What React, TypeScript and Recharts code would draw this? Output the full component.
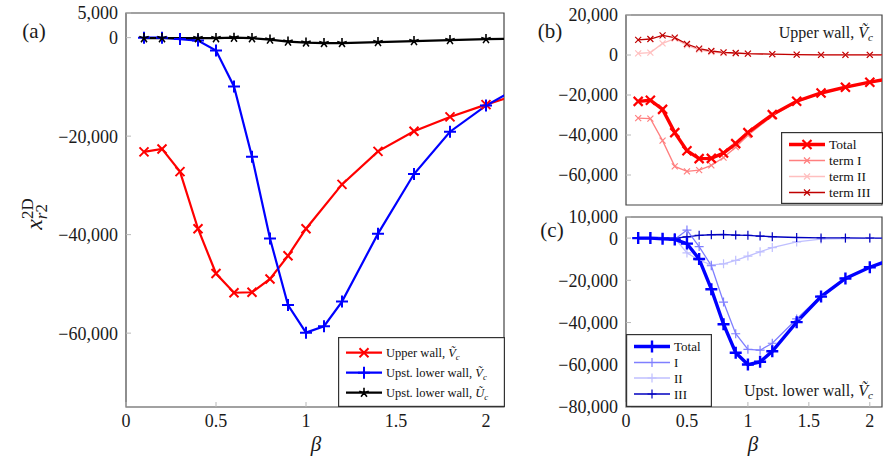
import React from 'react';
import { LineChart, Line, XAxis, YAxis, ReferenceArea, Legend } from 'recharts';

const SERIF = '"Liberation Serif", "Times New Roman", serif';

// β values at which each family of curves was sampled
const betaUpperWall = [0.1, 0.2, 0.3, 0.4, 0.5, 0.6, 0.7, 0.8, 0.9, 1.0, 1.2, 1.4, 1.6, 1.8, 2.0, 2.2];
const betaLowerWallV = [0.1, 0.2, 0.3, 0.4, 0.5, 0.6, 0.7, 0.8, 0.9, 1.0, 1.1, 1.2, 1.4, 1.6, 1.8, 2.0, 2.2];
const betaLowerWallU = [0.1, 0.2, 0.4, 0.5, 0.6, 0.7, 0.8, 0.9, 1.0, 1.1, 1.2, 1.4, 1.6, 1.8, 2.0, 2.2];

// Upper wall, V_c: total and its three contributions
const upperTotal = [-23200, -22600, -27200, -38800, -47900, -51800, -51700, -49000, -44300, -38800, -29800, -23100, -19000, -16100, -13600, -11300];
const upperTermI = [-31600, -31800, -42800, -55700, -58200, -57600, -55200, -51300, -46100, -40100, -30500, -23450, -19200, -16250, -13750, -11450];
const upperTermII = [800, 1200, 5800, 8200, 4800, 2600, 1500, 1000, 800, 600, 300, 150, 100, 50, 50, 50];
const upperTermIII = [7600, 8000, 9800, 8700, 5500, 3200, 2000, 1300, 1000, 700, 400, 200, 100, 100, 100, 100];

// Upstream lower wall, V_c: total and its three contributions
const lowerTotal = [0, 0, -300, -600, -2600, -9900, -24200, -40800, -54300, -59900, -58600, -53600, -39800, -27700, -19100, -13800, -9700];
const lowerTermI = [0, 0, -300, -600, 3800, -4000, -13100, -30300, -45300, -52700, -53100, -49800, -38300, -27300, -19000, -13700, -9600];
const lowerTermII = [0, 0, 0, 0, -7000, -10500, -12700, -12200, -10500, -8500, -6500, -4500, -1800, -500, -200, -100, -100];
const lowerTermIII = [0, 0, 0, 0, 600, 1300, 1600, 1700, 1450, 1300, 950, 650, 300, 100, 100, 0, 0];

// Upstream lower wall, U_c
const lowerUc = [-100, -100, -100, -100, 0, -100, -400, -800, -1000, -1100, -1100, -900, -700, -500, -300, -200];

// Axis ticks
const betaTicks = [0, 0.5, 1, 1.5, 2];
const ticksA = [5000, 0, -20000, -40000, -60000];
const ticksB = [20000, 0, -20000, -40000, -60000];
const ticksC = [10000, 0, -20000, -40000, -60000, -80000];

type MarkKind = 'cross' | 'plus' | 'star';

interface Series {
  id: string;
  beta: number[];
  values: number[];
  color: string;
  width: number;
  mark: MarkKind;
  markR: number;
  markW: number;
  label: React.ReactNode;
}

const toRows = (beta: number[], values: number[]) => beta.map((b, i) => ({ beta: b, value: values[i] }));

function fmtValue(v: number): string {
  if (v === 0) return '0';
  const s = String(Math.abs(v)).replace(/\B(?=(\d{3})+(?!\d))/g, ',');
  return (v < 0 ? '\u2212' : '') + s;
}

function markPath(kind: MarkKind, cx: number, cy: number, r: number): string {
  if (kind === 'cross') {
    return `M${cx - r},${cy - r}L${cx + r},${cy + r}M${cx - r},${cy + r}L${cx + r},${cy - r}`;
  }
  if (kind === 'plus') {
    return `M${cx - r},${cy}L${cx + r},${cy}M${cx},${cy - r}L${cx},${cy + r}`;
  }
  let p = '';
  for (let k = 0; k < 5; k++) {
    const a = ((90 + 72 * k) * Math.PI) / 180;
    p += `M${cx},${cy}L${cx + r * Math.cos(a)},${cy - r * Math.sin(a)}`;
  }
  return p;
}

// "wall, Ṽ_c" style suffix
const tildeSub = (base: string) => (
  <>
    <tspan fontStyle="italic">{base}</tspan>
    <tspan fontStyle="italic" fontSize="0.7em" dy="0.3em">c</tspan>
  </>
);

const RED = '#ff0000';
const BLUE = '#0000ff';

const seriesA: Series[] = [
  { id: 'a-up', beta: betaUpperWall, values: upperTotal, color: RED, width: 2.2, mark: 'cross', markR: 4.5, markW: 2, label: <>Upper wall, {tildeSub('Ṽ')}</> },
  { id: 'a-lowV', beta: betaLowerWallV, values: lowerTotal, color: BLUE, width: 2.2, mark: 'plus', markR: 6, markW: 2, label: <>Upst. lower wall, {tildeSub('Ṽ')}</> },
  { id: 'a-lowU', beta: betaLowerWallU, values: lowerUc, color: '#000', width: 2.2, mark: 'star', markR: 5, markW: 1.6, label: <>Upst. lower wall, {tildeSub('Ũ')}</> },
];

const seriesB: Series[] = [
  { id: 'b-tot', beta: betaUpperWall, values: upperTotal, color: RED, width: 3.4, mark: 'cross', markR: 4.5, markW: 2.2, label: 'Total' },
  { id: 'b-I', beta: betaUpperWall, values: upperTermI, color: '#ff7f7f', width: 1.3, mark: 'cross', markR: 3, markW: 1.2, label: 'term I' },
  { id: 'b-II', beta: betaUpperWall, values: upperTermII, color: '#ffbfbf', width: 1.3, mark: 'cross', markR: 3, markW: 1.2, label: 'term II' },
  { id: 'b-III', beta: betaUpperWall, values: upperTermIII, color: '#bf0000', width: 1.3, mark: 'cross', markR: 3, markW: 1.2, label: 'term III' },
];

const seriesC: Series[] = [
  { id: 'c-tot', beta: betaLowerWallV, values: lowerTotal, color: BLUE, width: 3.4, mark: 'plus', markR: 6, markW: 2.4, label: 'Total' },
  { id: 'c-I', beta: betaLowerWallV, values: lowerTermI, color: '#7f7fff', width: 1.3, mark: 'plus', markR: 4.5, markW: 1.2, label: 'I' },
  { id: 'c-II', beta: betaLowerWallV, values: lowerTermII, color: '#bfbfff', width: 1.3, mark: 'plus', markR: 4.5, markW: 1.2, label: 'II' },
  { id: 'c-III', beta: betaLowerWallV, values: lowerTermIII, color: '#0000bf', width: 1.3, mark: 'plus', markR: 4.5, markW: 1.2, label: 'III' },
];

interface LegendSpec {
  entries: Series[];
  left: number;
  top: number;
  width: number;
  height: number;
  rowY: number[];
  fontSize: number;
}

function LegendBox({ spec }: { spec: LegendSpec }) {
  return (
    <svg width={spec.width} height={spec.height} style={{ display: 'block' }}>
      <rect x={0.6} y={0.6} width={spec.width - 1.2} height={spec.height - 1.2} fill="#fff" stroke="#333" strokeWidth={1.2} />
      {spec.entries.map((s, i) => {
        const y = spec.rowY[i];
        return (
          <g key={s.id}>
            <line x1={8} x2={44} y1={y} y2={y} stroke={s.color} strokeWidth={s.width} />
            <path d={markPath(s.mark, 26, y, s.markR)} stroke={s.color} strokeWidth={s.markW} fill="none" />
            <text x={48} y={y} dy="0.35em" fontFamily={SERIF} fontSize={spec.fontSize} fill="#111">
              {s.label}
            </text>
          </g>
        );
      })}
    </svg>
  );
}

interface PanelProps {
  left: number;
  top: number;
  width: number;
  height: number;
  margin: { top: number; right: number; bottom: number; left: number };
  yWidth: number;
  xHeight: number;
  showX: boolean;
  yDomain: [number, number];
  yTicks: number[];
  drawOrder: Series[];
  legend: LegendSpec;
}

const tickLineStyle = { stroke: '#b8b8b8', strokeWidth: 1 };
const tickText = { fontSize: 18, fill: '#1a1a1a', fontFamily: SERIF };

function Panel(p: PanelProps) {
  return (
    <div style={{ position: 'absolute', left: p.left, top: p.top, width: p.width, height: p.height }}>
      <LineChart width={p.width} height={p.height} margin={p.margin}>
        <XAxis
          xAxisId={0}
          type="number"
          dataKey="beta"
          domain={[0, 2.1]}
          ticks={betaTicks}
          allowDataOverflow
          interval={0}
          axisLine={false}
          tickLine={tickLineStyle}
          tickSize={-5}
          tickMargin={12}
          height={p.xHeight}
          tick={p.showX ? tickText : false}
          tickFormatter={(v: number) => String(v)}
        />
        <XAxis
          xAxisId="mirror"
          orientation="top"
          type="number"
          dataKey="beta"
          domain={[0, 2.1]}
          ticks={betaTicks}
          allowDataOverflow
          interval={0}
          axisLine={false}
          tickLine={tickLineStyle}
          tickSize={-5}
          height={1}
          tick={false}
        />
        <YAxis
          yAxisId={0}
          type="number"
          domain={p.yDomain}
          ticks={p.yTicks}
          allowDataOverflow
          interval={0}
          axisLine={false}
          tickLine={tickLineStyle}
          tickSize={-5}
          tickMargin={13}
          width={p.yWidth}
          tick={tickText}
          tickFormatter={fmtValue}
        />
        <YAxis
          yAxisId="mirror"
          orientation="right"
          type="number"
          domain={p.yDomain}
          ticks={p.yTicks}
          allowDataOverflow
          interval={0}
          axisLine={false}
          tickLine={tickLineStyle}
          tickSize={-5}
          width={1}
          tick={false}
        />
        <ReferenceArea
          xAxisId={0}
          yAxisId={0}
          x1={0}
          x2={2.1}
          y1={p.yDomain[0]}
          y2={p.yDomain[1]}
          fill="none"
          fillOpacity={0}
          stroke="#444"
          strokeWidth={1.2}
          ifOverflow="visible"
        />
        {p.drawOrder.map((s) => (
          <Line
            key={s.id}
            xAxisId={0}
            yAxisId={0}
            data={toRows(s.beta, s.values)}
            dataKey="value"
            name={s.id}
            type="linear"
            stroke={s.color}
            strokeWidth={s.width}
            isAnimationActive={false}
            activeDot={false}
            dot={(d: any) => {
              const k = `${s.id}-${d.index}`;
              if (d.cx == null || d.cy == null || Number.isNaN(d.cx) || Number.isNaN(d.cy)) return <g key={k} />;
              return <path key={k} d={markPath(s.mark, d.cx, d.cy, s.markR)} stroke={s.color} strokeWidth={s.markW} fill="none" />;
            }}
          />
        ))}
        <Legend
          layout="vertical"
          align="center"
          verticalAlign="middle"
          wrapperStyle={{ left: p.legend.left, top: p.legend.top, width: p.legend.width, height: p.legend.height, lineHeight: 0 }}
          content={() => <LegendBox spec={p.legend} />}
        />
      </LineChart>
    </div>
  );
}

export default function App() {
  return (
    <div style={{ position: 'absolute', left: 0, top: 0, width: 896, height: 465, background: '#fff', overflow: 'hidden' }}>
      <Panel
        left={0}
        top={0}
        width={510}
        height={465}
        margin={{ top: 12, right: 5, bottom: 28, left: 0 }}
        yWidth={126}
        xHeight={30}
        showX
        yDomain={[-75000, 5000]}
        yTicks={ticksA}
        drawOrder={seriesA}
        legend={{ entries: seriesA, left: 338, top: 337, width: 167, height: 70, rowY: [15.7, 35.7, 55.7], fontSize: 12.5 }}
      />
      <Panel
        left={520}
        top={0}
        width={368}
        height={215}
        margin={{ top: 14, right: 5, bottom: 9, left: 0 }}
        yWidth={106}
        xHeight={1}
        showX={false}
        yDomain={[-75000, 20000]}
        yTicks={ticksB}
        drawOrder={[seriesB[2], seriesB[3], seriesB[1], seriesB[0]]}
        legend={{ entries: seriesB, left: 261, top: 132, width: 102, height: 72, rowY: [12.5, 28.5, 44.5, 60.5], fontSize: 13.5 }}
      />
      <Panel
        left={520}
        top={205}
        width={368}
        height={260}
        margin={{ top: 11, right: 5, bottom: 28, left: 0 }}
        yWidth={106}
        xHeight={30}
        showX
        yDomain={[-80000, 10000]}
        yTicks={ticksC}
        drawOrder={[seriesC[2], seriesC[3], seriesC[1], seriesC[0]]}
        legend={{ entries: seriesC, left: 106, top: 129, width: 86, height: 73, rowY: [12.5, 28.5, 44, 60], fontSize: 13 }}
      />
      <svg width={896} height={465} style={{ position: 'absolute', left: 0, top: 0, pointerEvents: 'none' }}>
        <g fontFamily={SERIF} fill="#1a1a1a">
          <text x={34} y={38} fontSize={21} textAnchor="middle">(a)</text>
          <text x={550} y={38} fontSize={21} textAnchor="middle">(b)</text>
          <text x={552} y={237} fontSize={21} textAnchor="middle">(c)</text>
          <text x={316} y={451} fontSize={21} fontStyle="italic" textAnchor="middle">β</text>
          <text x={753} y={451} fontSize={21} fontStyle="italic" textAnchor="middle">β</text>
          <text transform="translate(42,214) rotate(-90)" fontSize={24} textAnchor="middle">
            <tspan fontStyle="italic">x</tspan>
            <tspan fontSize={17} dy={5}>
              <tspan fontStyle="italic">r</tspan>2
            </tspan>
            <tspan fontSize={17} dx={-15} dy={-14}>2D</tspan>
          </text>
          <text x={873} y={38} fontSize={16} textAnchor="end">
            Upper wall, {tildeSub('Ṽ')}
          </text>
          <text x={873} y={396} fontSize={16} textAnchor="end">
            Upst. lower wall, {tildeSub('Ṽ')}
          </text>
        </g>
      </svg>
    </div>
  );
}
